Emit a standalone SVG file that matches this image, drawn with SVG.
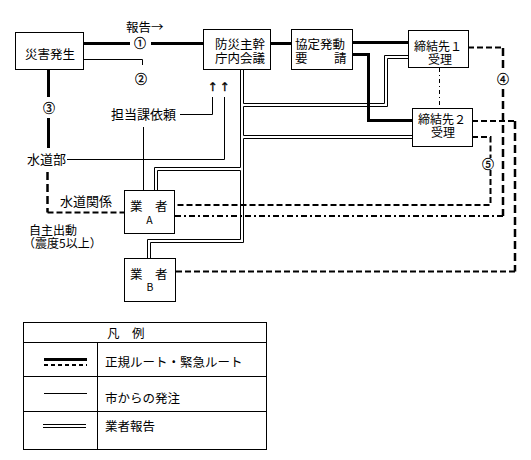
<svg xmlns="http://www.w3.org/2000/svg" width="531" height="460" viewBox="0 0 531 460">
<style>
text{font-family:"Noto Sans CJK JP","Noto Sans",sans-serif;font-size:12.5px;fill:#000}
.s{font-size:13px}
.t{font-size:12px}
.n{font-size:12px;text-anchor:middle;stroke:#000;stroke-width:0.3}
.ar{font-family:"DejaVu Sans",sans-serif;font-size:12px;text-anchor:middle;stroke:#000;stroke-width:0.3}
.box{fill:#fff;stroke:#000;stroke-width:1}
.thin{fill:none;stroke:#000;stroke-width:1}
.thick{fill:none;stroke:#000;stroke-width:3}
.dash{fill:none;stroke:#000;stroke-width:2;stroke-dasharray:6 3}
.vdash{fill:none;stroke:#000;stroke-width:2.5;stroke-dasharray:8 4}
.dd{fill:none;stroke:#000;stroke-width:2;stroke-dasharray:6 3 2 3}
.fine{fill:none;stroke:#000;stroke-width:1;stroke-dasharray:4 3 1 3}
</style>
<rect width="531" height="460" fill="#fff"/>

<g id="connectors">
  <path class="thick" d="M83 43.5H130M151 43.5H203"/>
  <path class="thick" d="M271 43.5H291"/>
  <path class="thick" d="M352 42.5H408"/>
  <path class="thick" d="M352 54.5H368.5V120.5H412"/>
  <path class="thick" d="M48.5 70V97M48.5 118V148"/>
  <path class="thin" d="M83 59.5H142.5V65"/>
  <path class="thin" d="M180 114.5H212.5V97"/>
  <path class="thin" d="M67 159.5H224.5V97"/>
  <path class="thin" d="M143.5 127V190"/>
  <path class="thin" d="M240.5 69V167.5H154.5V190"/>
  <path class="thin" d="M157.5 190V170.5H240.5V239.5H147.5V258"/>
  <path class="thin" d="M243.5 69V103.5H384.5V55.5H408"/>
  <path class="thin" d="M408 58.5H387.5V106.5H243.5V135.5H412"/>
  <path class="thin" d="M412 138.5H243.5V242.5H150.5V258"/>
  <path class="vdash" d="M47.5 172V212.5"/>
  <path class="dash" d="M47.5 212.5H124"/>
  <path class="dash" d="M468 47.5H503"/>
  <path class="vdash" d="M503 48V72M503 89V216"/>
  <path class="dd" d="M503 216H174"/>
  <path class="dash" d="M472 137H490.5V158M490.5 170V205H174"/>
  <path class="dash" d="M472 121H515"/>
  <path class="vdash" d="M515 121V271.5"/>
  <path class="dash" d="M515 271.5H175"/>
  <path class="fine" d="M439.5 68V108"/>
</g>

<g id="n-saigai">
  <rect class="box" x="15.5" y="32.5" width="68" height="37"/>
  <text x="25" y="59">災害発生</text>
</g>
<g id="n-bousai">
  <rect class="box" x="203.5" y="29.5" width="67" height="40"/>
  <text x="215" y="48.5">防災主幹</text>
  <text x="215" y="62.5">庁内会議</text>
</g>
<g id="n-kyoutei">
  <rect class="box" x="291.5" y="29.5" width="61" height="40"/>
  <text x="295" y="48.5">協定発動</text>
  <text x="295" y="62.5">要</text>
  <text x="334" y="62.5">請</text>
</g>
<g id="n-teiketsu1">
  <rect class="box" x="408.5" y="30.5" width="60" height="37"/>
  <text class="t" x="414" y="51">締結先１</text>
  <text class="t" x="428" y="63.5">受理</text>
</g>
<g id="n-teiketsu2">
  <rect class="box" x="412.5" y="108.5" width="60" height="38"/>
  <text class="t" x="418" y="124">締結先２</text>
  <text class="t" x="431" y="137">受理</text>
</g>
<g id="n-gyoushaA">
  <rect class="box" x="124.5" y="190.5" width="50" height="43"/>
  <text x="130" y="211">業　者</text>
  <text x="149.5" y="224" style="font-size:10.5px;text-anchor:middle">A</text>
</g>
<g id="n-gyoushaB">
  <rect class="box" x="124.5" y="258.5" width="51" height="43"/>
  <text x="130" y="279">業　者</text>
  <text x="150" y="291" style="font-size:10.5px;text-anchor:middle">B</text>
</g>

<g id="labels">
  <text x="126" y="32">報告→</text>
  <text class="n" x="140" y="48">①</text>
  <text class="n" x="141" y="84">②</text>
  <text class="n" x="49" y="113">③</text>
  <text class="n" x="503" y="84">④</text>
  <text class="n" x="488" y="169">⑤</text>
  <text class="ar" x="212.5" y="91">↑</text>
  <text class="ar" x="224.5" y="91">↑</text>
  <text class="s" x="111" y="119">担当課依頼</text>
  <text class="s" x="27" y="164">水道部</text>
  <text class="s" x="60" y="206">水道関係</text>
  <text class="t" x="29" y="234.5">自主出動</text>
  <text class="t" x="23" y="248">（震度5以上）</text>
</g>

<g id="legend">
  <rect class="box" x="23.5" y="322.5" width="243" height="127"/>
  <path class="thin" d="M23.5 342.5H266.5M23.5 376.5H266.5M23.5 411.5H266.5M97.5 342.5V449.5"/>
  <text x="107" y="338">凡　例</text>
  <path class="thick" d="M44 359.5H87"/>
  <path fill="none" stroke="#000" stroke-width="2" stroke-dasharray="4 3" d="M44 365H87"/>
  <text x="105" y="367">正規ルート・緊急ルート</text>
  <path class="thin" d="M44 393.5H87"/>
  <text x="105" y="403">市からの発注</text>
  <path class="thin" d="M43 424.5H86M43 427.5H86"/>
  <text x="105" y="431">業者報告</text>
</g>
</svg>
